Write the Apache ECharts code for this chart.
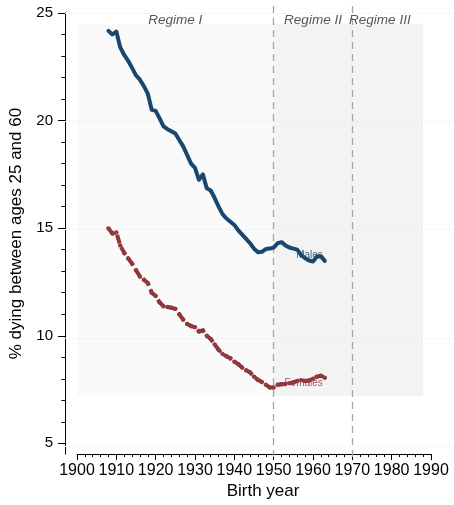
<!DOCTYPE html>
<html>
<head>
<meta charset="utf-8">
<script src="https://cdn.jsdelivr.net/npm/echarts@6/dist/echarts.min.js"></script>
<style>
  html, body { margin: 0; padding: 0; background: #fff; }
  #chart { width: 454px; height: 505px; }
</style>
</head>
<body>
<div id="chart"></div>
<script>
// Birth cohorts and share dying between ages 25 and 60 (%)
const birthYears = [1908, 1909, 1910, 1911, 1912, 1913, 1914, 1915, 1916, 1917,
  1918, 1919, 1920, 1921, 1922, 1923, 1924, 1925, 1926, 1927,
  1928, 1929, 1930, 1931, 1932, 1933, 1934, 1935, 1936, 1937,
  1938, 1939, 1940, 1941, 1942, 1943, 1944, 1945, 1946, 1947,
  1948, 1949, 1950, 1951, 1952, 1953, 1954, 1955, 1956, 1957,
  1958, 1959, 1960, 1961, 1962, 1963];
const males = [24.17, 24.0, 24.14, 23.4, 23.05, 22.78, 22.45, 22.1, 21.9, 21.6,
  21.25, 20.5, 20.45, 20.1, 19.73, 19.6, 19.5, 19.4, 19.1, 18.8,
  18.4, 18.0, 17.8, 17.25, 17.5, 16.85, 16.75, 16.4, 16.0, 15.65,
  15.45, 15.3, 15.15, 14.9, 14.7, 14.5, 14.3, 14.05, 13.88, 13.9,
  14.03, 14.05, 14.1, 14.3, 14.35, 14.2, 14.1, 14.05, 14.0, 13.75,
  13.6, 13.5, 13.45, 13.68, 13.7, 13.48];
const females = [14.99, 14.75, 14.8, 14.2, 13.85, 13.6, 13.35, 13.05, 12.75, 12.6,
  12.45, 12.0, 11.85, 11.55, 11.37, 11.34, 11.3, 11.25, 11.0, 10.75,
  10.55, 10.45, 10.4, 10.2, 10.25, 10.0, 9.85, 9.6, 9.35, 9.15,
  9.05, 8.95, 8.8, 8.68, 8.52, 8.4, 8.3, 8.1, 7.95, 7.85,
  7.72, 7.6, 7.6, 7.72, 7.75, 7.76, 7.8, 7.83, 7.9, 7.94,
  7.9, 7.92, 8.0, 8.1, 8.14, 8.05];

// Axis ticks
const yMajorTicks = [5, 10, 15, 20, 25];
const yMinorTicks = [6, 7, 8, 9, 11, 12, 13, 14, 16, 17, 18, 19, 21, 22, 23, 24];

// Regimes
const regimeBreaks = [1950, 1970];
const regimeNames = ['Regime I', 'Regime II', 'Regime III'];
const regimeLabelYears = [1925, 1960, 1977];
const regimeLabelLevel = 24.65;
const bandEarlyYears = [1900, 1950];
const bandLateYears = [1950, 1988];
const bandLevels = [7.2, 24.5];

// Series end labels
const seriesNames = ['Males', 'Females'];
const seriesLabelAt = [[1962.5, 13.74], [1962.5, 7.79]];

const FONT = 'Liberation Sans, Arial, Helvetica, sans-serif';
const NAVY = '#1a476f';
const MAROON = '#90353b';

const pairs = (xs, ys) => xs.map((x, i) => [x, ys[i]]);

const chart = echarts.init(document.getElementById('chart'), null, { renderer: 'canvas' });

chart.setOption({
  animation: false,
  backgroundColor: '#fff',
  textStyle: { fontFamily: FONT },
  grid: [
    { left: 77, right: 23, top: 13, bottom: 48 },   // data
    { left: 77, right: 23, top: 3, bottom: 48 },    // regime break lines
    { left: 65, right: 0, top: 13, bottom: 48 }     // horizontal guides
  ],
  xAxis: [
    {
      gridIndex: 0, type: 'value', min: 1900, max: 1990, interval: 10,
      axisLine: { show: true, lineStyle: { color: '#000', width: 1 } },
      axisTick: { show: true, length: 6, lineStyle: { color: '#000', width: 1 } },
      minorTick: { show: true, splitNumber: 5, length: 3, lineStyle: { color: '#000', width: 1 } },
      axisLabel: {
        fontSize: 16, color: '#000', margin: 8, fontFamily: FONT,
        showMinLabel: true, showMaxLabel: true, hideOverlap: false,
        formatter: v => String(v)
      },
      splitLine: { show: false },
      name: 'Birth year', nameLocation: 'middle', nameGap: 27,
      nameTextStyle: { fontSize: 17, color: '#000', fontFamily: FONT, padding: [0, 0, 0, 18] }
    },
    { gridIndex: 1, type: 'value', min: 1900, max: 1990, show: false },
    { gridIndex: 2, type: 'value', min: 0, max: 1, show: false }
  ],
  yAxis: [
    {
      gridIndex: 0, type: 'value', position: 'left', min: 4.5, max: 25, offset: 12,
      axisLine: { show: true, lineStyle: { color: '#000', width: 1 } },
      axisTick: { show: true, length: 7, customValues: yMajorTicks, lineStyle: { color: '#000', width: 1 } },
      axisLabel: { show: true, customValues: yMajorTicks, fontSize: 15, color: '#000', margin: 12, fontFamily: FONT },
      splitLine: { show: false },
      name: '% dying between ages 25 and 60', nameLocation: 'middle', nameGap: 40,
      nameTextStyle: { fontSize: 17, color: '#000', fontFamily: FONT }
    },
    {
      gridIndex: 0, type: 'value', position: 'left', min: 4.5, max: 25, offset: 12,
      axisLine: { show: false },
      axisTick: { show: true, length: 3.5, customValues: yMinorTicks, lineStyle: { color: '#000', width: 1 } },
      axisLabel: { show: false },
      splitLine: { show: false }
    },
    { gridIndex: 1, type: 'value', min: 0, max: 1, show: false },
    { gridIndex: 2, type: 'value', min: 4.5, max: 25, show: false }
  ],
  series: [
    {
      // shaded regime bands and regime titles
      type: 'line', xAxisIndex: 0, yAxisIndex: 0, data: [], z: 1,
      markArea: {
        silent: true,
        data: [
          [{ xAxis: bandEarlyYears[0], yAxis: bandLevels[0], itemStyle: { color: '#fafafa' } },
           { xAxis: bandEarlyYears[1], yAxis: bandLevels[1] }],
          [{ xAxis: bandLateYears[0], yAxis: bandLevels[0], itemStyle: { color: '#f3f3f3' } },
           { xAxis: bandLateYears[1], yAxis: bandLevels[1] }]
        ],
        label: { show: false }
      },
      markPoint: {
        silent: true, symbol: 'circle', symbolSize: 0,
        label: {
          show: true, position: 'inside', fontStyle: 'italic', fontSize: 13.5,
          color: '#555', fontFamily: FONT, formatter: p => p.name
        },
        data: regimeNames.map((n, i) => ({ name: n, coord: [regimeLabelYears[i], regimeLabelLevel] }))
      }
    },
    {
      // horizontal dotted guides
      type: 'line', xAxisIndex: 2, yAxisIndex: 3, data: [], z: 2,
      markLine: {
        silent: true, symbol: 'none', label: { show: false },
        lineStyle: { color: '#dcdcdc', type: [1, 3], width: 1 },
        data: yMajorTicks.map(v => ({ yAxis: v }))
      }
    },
    {
      // regime break lines
      type: 'line', xAxisIndex: 1, yAxisIndex: 2, data: [], z: 3,
      markLine: {
        silent: true, symbol: 'none', label: { show: false },
        lineStyle: { color: '#a6a6a6', type: [7, 5], width: 1.3 },
        data: regimeBreaks.map(v => ({ xAxis: v }))
      }
    },
    {
      name: seriesNames[0], type: 'line', xAxisIndex: 0, yAxisIndex: 0, z: 5,
      data: pairs(birthYears, males),
      showSymbol: false,
      lineStyle: { color: NAVY, width: 4, join: 'round', cap: 'round' },
      itemStyle: { color: NAVY },
      markPoint: {
        silent: true, symbol: 'circle', symbolSize: 0,
        label: { show: true, position: 'left', distance: 0, fontSize: 10, color: '#3b6286', fontFamily: FONT, formatter: seriesNames[0] },
        data: [{ coord: seriesLabelAt[0] }]
      }
    },
    {
      name: seriesNames[1], type: 'line', xAxisIndex: 0, yAxisIndex: 0, z: 5,
      data: pairs(birthYears, females),
      showSymbol: true, symbol: 'emptyCircle', symbolSize: 2.4,
      lineStyle: { color: MAROON, width: 4, type: [9, 4], join: 'round' },
      itemStyle: { color: MAROON, borderColor: '#c9979a', borderWidth: 0.8 },
      markPoint: {
        silent: true, symbol: 'circle', symbolSize: 0,
        label: { show: true, position: 'left', distance: 0, fontSize: 10, color: '#a0555a', fontFamily: FONT, formatter: seriesNames[1] },
        data: [{ coord: seriesLabelAt[1] }]
      }
    }
  ]
});
</script>
</body>
</html>
